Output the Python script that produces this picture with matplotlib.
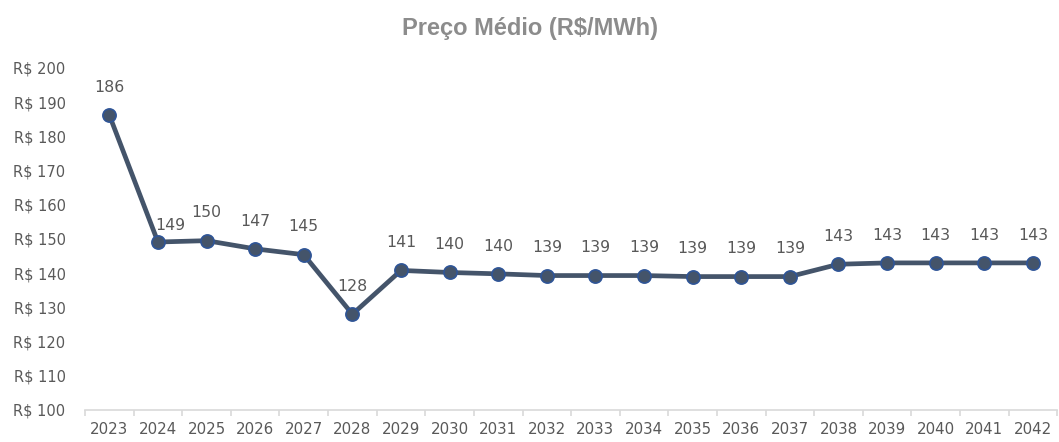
import numpy as np
import matplotlib as mpl
mpl.use("Agg")
import matplotlib.pyplot as plt

YEARS = [str(y) for y in range(2023, 2043)]
PRICE = [186.2, 149.1, 149.5, 147.1, 145.4, 128.0, 140.8, 140.2, 139.8, 139.3,
         139.3, 139.3, 139.0, 139.0, 139.0, 142.6, 143.0, 143.0, 143.0, 143.0]
Y_TICKS = list(range(100, 201, 10))

LINE = "#44546a"
EDGE = "#2f5597"
TEXT = "#595959"
GRID = "#d9d9d9"


def main():
    mpl.rcParams.update({
        "font.family": ["DejaVu Sans"],
        "font.size": 10.5,
    })

    fig = plt.figure(figsize=(10.59, 4.42), dpi=100)
    ax = fig.add_axes([0.0803, 0.0724, 0.918, 0.774])

    x = np.arange(len(YEARS))
    ax.plot(x, PRICE, color=LINE, lw=3.4, marker="o", ms=9.5,
            markerfacecolor=LINE, markeredgecolor=EDGE, markeredgewidth=1.2,
            solid_joinstyle="round", zorder=3)

    for i, v in enumerate(PRICE):
        dx, dy = 0, 20
        if i == 1:
            dx, dy = 9, 12
        ax.annotate(f"{round(v):.0f}", (x[i], v), xytext=(dx, dy),
                    textcoords="offset points", ha="center", va="center",
                    color=TEXT, fontsize=11.3)

    ax.set_xlim(-0.5, len(YEARS) - 0.5)
    ax.set_ylim(100, 200)
    ax.set_yticks(Y_TICKS)
    ax.set_yticklabels([f"R$ {t}" for t in Y_TICKS])
    ax.set_xticks(x)
    ax.set_xticklabels(YEARS)
    ax.set_xticks(np.arange(-0.5, len(YEARS)), minor=True)

    ax.tick_params(axis="y", length=0, pad=14, colors=TEXT, labelsize=10.5)
    ax.tick_params(axis="x", which="major", length=0, pad=9, colors=TEXT, labelsize=10.8)
    ax.tick_params(axis="x", which="minor", length=4, width=1.2, color=GRID)

    for s in ["top", "right", "left"]:
        ax.spines[s].set_visible(False)
    ax.spines["bottom"].set_color(GRID)
    ax.spines["bottom"].set_linewidth(1.2)

    fig.text(0.5, 0.935, "Preço Médio (R$/MWh)", ha="center", va="center",
             fontsize=17, fontweight="bold", color="#8c8c8c",
             family=["Liberation Sans", "DejaVu Sans"])

    fig.savefig("out.png", dpi=100)


if __name__ == "__main__":
    main()
